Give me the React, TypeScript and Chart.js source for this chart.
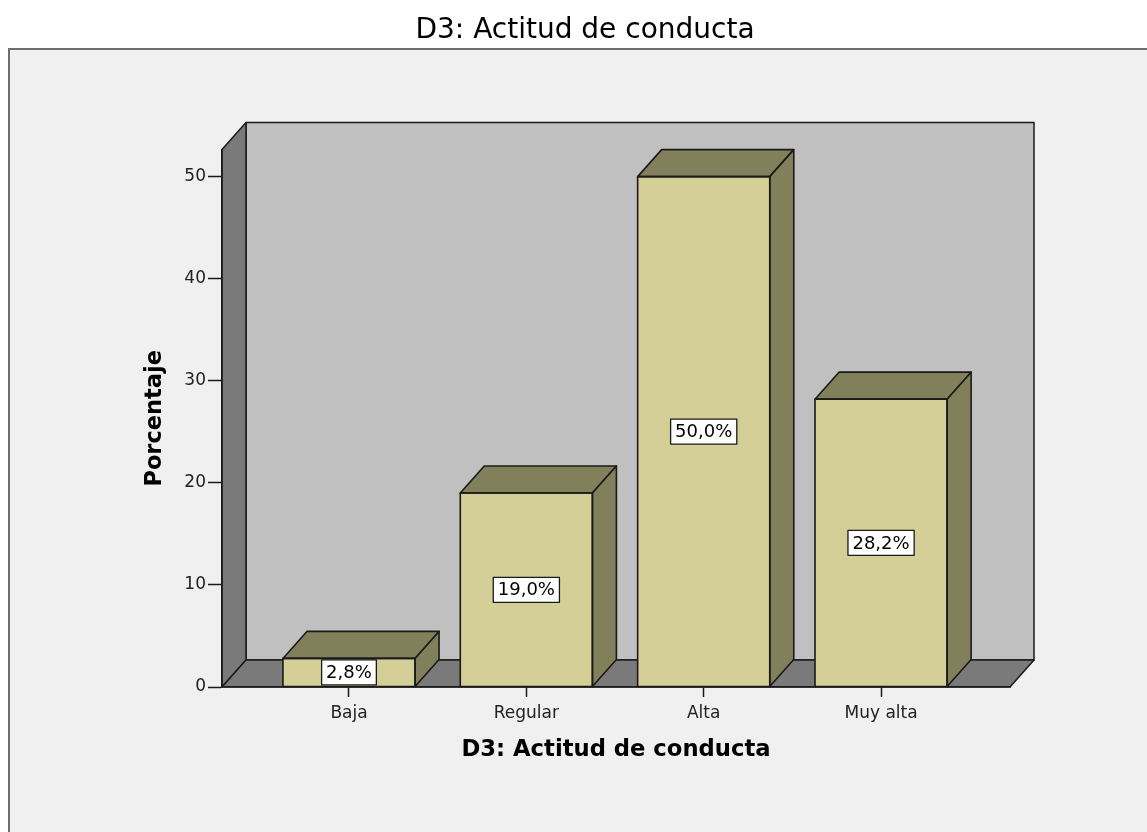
import React, { useEffect, useRef } from 'react';
import { Chart, registerables } from 'chart.js';

Chart.register(...registerables);

const categories = ['Baja', 'Regular', 'Alta', 'Muy alta'];
const percentages = [2.8, 19.0, 50.0, 28.2];
const valueLabels = ['2,8%', '19,0%', '50,0%', '28,2%'];
const yTicks = [0, 10, 20, 30, 40, 50];
const chartTitle = 'D3: Actitud de conducta';
const xTitle = 'D3: Actitud de conducta';
const yTitle = 'Porcentaje';

const W = 1147;
const H = 832;
const DX = 24;
const DY = 27;
const FONT = '"DejaVu Sans", sans-serif';
const LINE = '#1a1a1a';

const threeD = {
  id: 'threeD',
  beforeDraw(chart: any) {
    const { ctx, chartArea } = chart;
    const { left: L, right: R, top: T, bottom: B } = chartArea;
    ctx.save();
    ctx.fillStyle = '#ffffff';
    ctx.fillRect(0, 0, W, H);
    // outer frame
    ctx.fillStyle = '#f0f0f0';
    ctx.fillRect(9, 49, W, H);
    ctx.strokeStyle = '#6e6e6e';
    ctx.lineWidth = 2;
    ctx.strokeRect(9, 49, W + 10, H + 10);
    ctx.lineJoin = 'round';
    ctx.lineWidth = 1.5;
    ctx.strokeStyle = LINE;
    const poly = (pts: number[][], fill: string) => {
      ctx.beginPath();
      ctx.moveTo(pts[0][0], pts[0][1]);
      for (let i = 1; i < pts.length; i++) ctx.lineTo(pts[i][0], pts[i][1]);
      ctx.closePath();
      ctx.fillStyle = fill;
      ctx.fill();
      ctx.stroke();
    };
    // back wall
    poly([[L + DX, T - DY], [R + DX, T - DY], [R + DX, B - DY], [L + DX, B - DY]], '#c0c0c0');
    // left wall
    poly([[L, B], [L + DX, B - DY], [L + DX, T - DY], [L, T]], '#7a7a7a');
    // floor
    poly([[L, B], [L + DX, B - DY], [R + DX, B - DY], [R, B]], '#7a7a7a');
    ctx.restore();
  },
  afterDatasetsDraw(chart: any) {
    const { ctx } = chart;
    const meta = chart.getDatasetMeta(0);
    ctx.save();
    ctx.lineJoin = 'round';
    ctx.lineWidth = 1.6;
    ctx.strokeStyle = LINE;
    meta.data.forEach((bar: any, i: number) => {
      const { x, y, base, width } = bar.getProps(['x', 'y', 'base', 'width'], true);
      const l = x - width / 2;
      const r = x + width / 2;
      const top = Math.min(y, base);
      const bot = Math.max(y, base);
      const poly = (pts: number[][], fill: string) => {
        ctx.beginPath();
        ctx.moveTo(pts[0][0], pts[0][1]);
        for (let k = 1; k < pts.length; k++) ctx.lineTo(pts[k][0], pts[k][1]);
        ctx.closePath();
        ctx.fillStyle = fill;
        ctx.fill();
        ctx.stroke();
      };
      poly([[l, top], [l + DX, top - DY], [r + DX, top - DY], [r, top]], '#827f5b');
      poly([[r, top], [r + DX, top - DY], [r + DX, bot - DY], [r, bot]], '#827f5b');
      // front face outline
      ctx.strokeRect(l, top, width, bot - top);
      // value label
      ctx.font = '18px ' + FONT;
      const text = valueLabels[i];
      const tw = ctx.measureText(text).width;
      const bw = tw + 9;
      const bh = 25;
      const cy = (top + bot) / 2;
      ctx.fillStyle = '#ffffff';
      ctx.fillRect(x - bw / 2, cy - bh / 2, bw, bh);
      ctx.lineWidth = 1.3;
      ctx.strokeRect(x - bw / 2, cy - bh / 2, bw, bh);
      ctx.lineWidth = 1.6;
      ctx.fillStyle = '#000000';
      ctx.textAlign = 'center';
      ctx.textBaseline = 'middle';
      ctx.fillText(text, x, cy + 1);
    });
    ctx.restore();
  },
};

export default function App() {
  const ref = useRef<HTMLCanvasElement>(null);
  useEffect(() => {
    if (!ref.current) return;
    const chart = new Chart(ref.current, {
      type: 'bar',
      data: {
        datasets: [
          {
            data: percentages.map((v, i) => ({ x: i, y: v })),
            backgroundColor: '#d3cf97',
            borderColor: LINE,
            borderWidth: 0,
            barPercentage: 0.745,
            categoryPercentage: 1,
          },
        ],
      },
      options: {
        responsive: false,
        animation: false,
        devicePixelRatio: 1,
        layout: { padding: { left: 23, right: 0, top: 0, bottom: 0 } },
        plugins: {
          legend: { display: false },
          tooltip: { enabled: false },
          title: {
            display: true,
            text: chartTitle,
            color: '#000000',
            font: { family: FONT, size: 28, weight: 'normal' as any },
            padding: { top: 14, bottom: 102 },
          },
        },
        scales: {
          x: {
            type: 'linear',
            offset: false,
            min: -0.716,
            max: 3.727,
            afterBuildTicks: (axis: any) => {
              axis.ticks = categories.map((_, i) => ({ value: i }));
            },
            afterFit: (axis: any) => {
              axis.height = 145;
            },
            ticks: {
              autoSkip: false,
              maxRotation: 0,
              padding: 6,
              color: '#222222',
              font: { family: FONT, size: 17 },
              callback: (v: any) => categories[Math.round(Number(v))] ?? '',
            },
            grid: {
              display: true,
              offset: false,
              drawOnChartArea: false,
              drawTicks: true,
              tickLength: 10,
              tickColor: LINE,
              tickWidth: 1.5,
            },
            border: { display: true, color: LINE, width: 1.5 },
            title: {
              display: true,
              text: xTitle,
              color: '#000000',
              font: { family: FONT, size: 22.7, weight: 'bold' as any },
              padding: { top: 0, bottom: 68 },
            },
          },
          y: {
            type: 'linear',
            position: 'left',
            min: 0,
            max: 52.65,
            afterBuildTicks: (axis: any) => {
              axis.ticks = yTicks.map((v) => ({ value: v }));
            },
            afterFit: (axis: any) => {
              axis.width = 199;
            },
            ticks: {
              padding: 2,
              color: '#222222',
              font: { family: FONT, size: 17 },
            },
            grid: {
              display: true,
              drawOnChartArea: false,
              drawTicks: true,
              tickLength: 14,
              tickColor: LINE,
              tickWidth: 1.5,
            },
            border: { display: true, color: LINE, width: 1.5 },
            title: {
              display: true,
              text: yTitle,
              color: '#000000',
              font: { family: FONT, size: 22.5, weight: 'bold' as any },
              padding: { top: 119, bottom: 0 },
            },
          },
          yRight: {
            type: 'linear',
            position: 'right',
            display: true,
            min: 0,
            max: 52.65,
            afterFit: (axis: any) => {
              axis.width = 137;
            },
            ticks: { display: false },
            grid: { display: false, drawTicks: false },
            border: { display: false },
            title: { display: false },
          },
        },
      },
      plugins: [threeD],
    });
    return () => chart.destroy();
  }, []);
  return (
    <div style={{ position: 'fixed', left: 0, top: 0, width: W, height: H, background: '#ffffff' }}>
      <canvas ref={ref} width={W} height={H} style={{ display: 'block', width: W, height: H }} />
    </div>
  );
}
